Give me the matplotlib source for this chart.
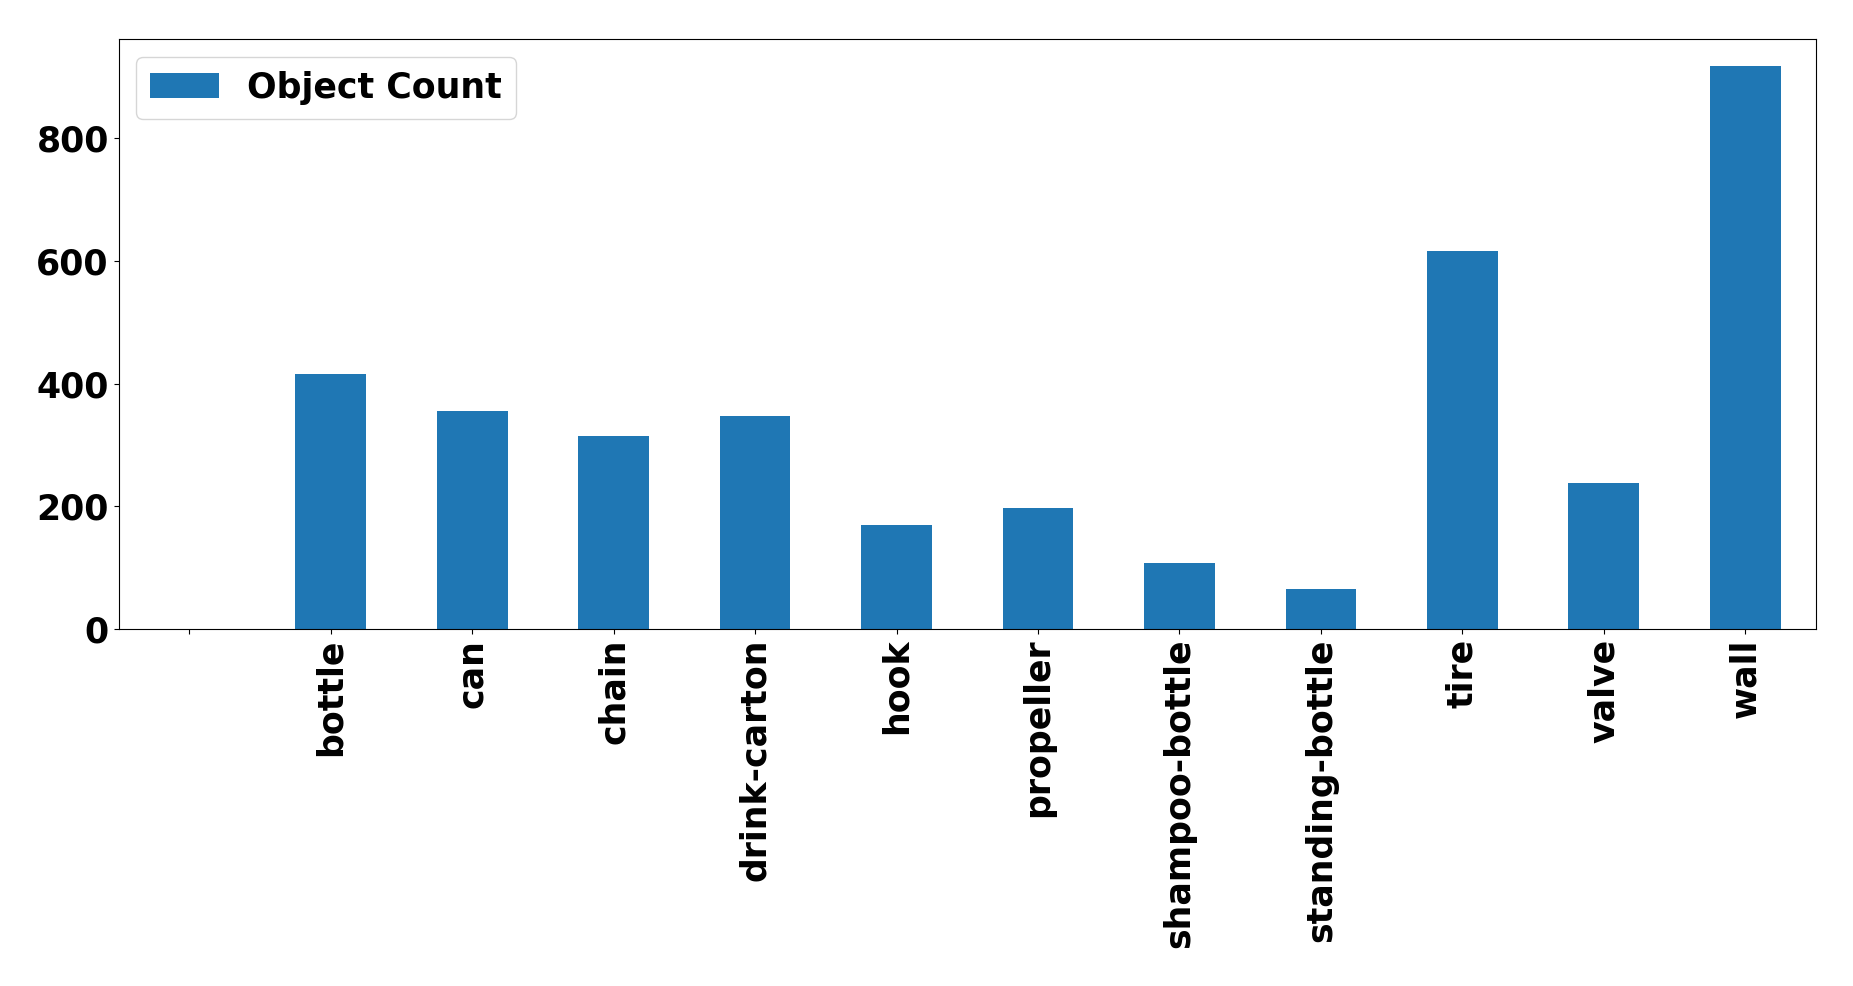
import matplotlib
matplotlib.use("Agg")
import matplotlib.pyplot as plt
import pandas as pd

# object classes (first one has no label and no count)
categories = ['', 'bottle', 'can', 'chain', 'drink-carton', 'hook', 'propeller',
              'shampoo-bottle', 'standing-bottle', 'tire', 'valve', 'wall']
counts = [0, 416, 355, 314, 348, 169, 197, 108, 65, 617, 238, 918]

plt.rcParams['font.weight'] = 'bold'
plt.rcParams['font.size'] = 25

df = pd.DataFrame({'Object Count': counts}, index=categories)

fig, ax = plt.subplots(figsize=(18.53, 9.86), dpi=100)
df.plot(kind='bar', ax=ax, color='#1f77b4')
ax.set_xlim(-0.5, len(categories) - 0.5)
ax.set_ylim(0, 961)
ax.set_yticks([0, 200, 400, 600, 800])
ax.tick_params(axis='both', labelsize=25)
for lbl in ax.get_xticklabels() + ax.get_yticklabels():
    lbl.set_fontweight('bold')
ax.legend(loc='upper left', prop={'weight': 'bold', 'size': 25})

plt.subplots_adjust(left=0.064, right=0.980, top=0.960, bottom=0.362)
plt.savefig('out.png', dpi=100)
